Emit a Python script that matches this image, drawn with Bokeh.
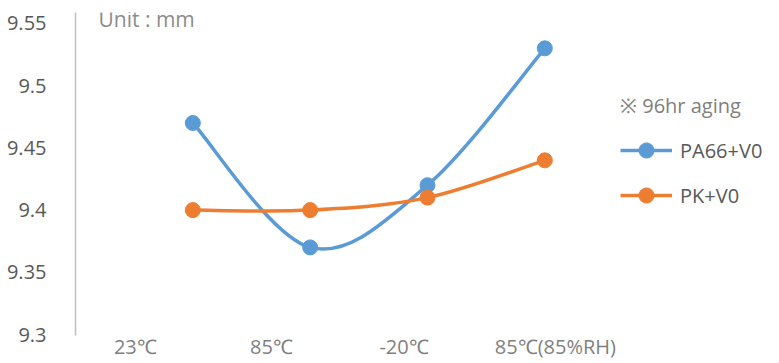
import numpy as np
from bokeh.plotting import figure
from bokeh.models import (Range1d, FixedTicker, Legend, LegendItem, Label,
                          ColumnDataSource)
from bokeh.embed import file_html
from bokeh.resources import INLINE

# Test conditions and measured dimension (mm) after 96 hr aging
conditions = ["23℃", "85℃", "-20℃", "85℃(85%RH)"]
sample_x = [1, 2, 3, 4]
pa66_v0 = [9.47, 9.37, 9.42, 9.53]
pk_v0 = [9.40, 9.40, 9.41, 9.44]
y_ticks = [9.3, 9.35, 9.4, 9.45, 9.5, 9.55]

# where the condition names sit along the x axis
condition_ticks = [0.51, 1.67, 2.80, 4.09]

BLUE = "#5b9bd5"
ORANGE = "#ed7d31"
FONT = "Open Sans"


def smooth_segments(xs, ys):
    """Cubic Bezier segments through the points (Catmull-Rom style smoothing)."""
    x = np.asarray(xs, float)
    y = np.asarray(ys, float)
    n = len(x)
    xp = np.concatenate([[x[0]], x, [x[-1]]])
    yp = np.concatenate([[y[0]], y, [y[-1]]])
    i = np.arange(n - 1)
    return dict(
        x0=x[i], y0=y[i], x1=x[i + 1], y1=y[i + 1],
        cx0=x[i] + (xp[i + 2] - xp[i]) / 6, cy0=y[i] + (yp[i + 2] - yp[i]) / 6,
        cx1=x[i + 1] - (xp[i + 3] - xp[i + 1]) / 6, cy1=y[i + 1] - (yp[i + 3] - yp[i + 1]) / 6,
    )


p = figure(width=779, height=363, output_backend="svg", toolbar_location=None,
           x_range=Range1d(0.0, 6.0), y_range=Range1d(9.2992, 9.5588),
           min_border_left=75, min_border_right=0, min_border_top=12,
           min_border_bottom=28)
p.outline_line_color = None
p.xgrid.visible = False
p.ygrid.visible = False
p.background_fill_color = "white"
p.border_fill_color = "white"

series = [("PA66+V0", pa66_v0, BLUE), ("PK+V0", pk_v0, ORANGE)]
items = []
for name, vals, color in series:
    seg = ColumnDataSource(smooth_segments(sample_x, vals))
    b = p.bezier(x0="x0", y0="y0", x1="x1", y1="y1", cx0="cx0", cy0="cy0",
                 cx1="cx1", cy1="cy1", source=seg, line_color=color,
                 line_width=3.5)
    pts = ColumnDataSource(dict(x=sample_x, y=vals))
    s = p.scatter("x", "y", source=pts, size=15, fill_color=color,
                  line_color=color)
    items.append(LegendItem(label=name, renderers=[b, s]))

# axes
yax = p.yaxis[0]
yax.ticker = FixedTicker(ticks=y_ticks)
yax.major_label_overrides = {v: f"{v:g}" for v in y_ticks}
yax.axis_line_color = "#bfbfbf"
yax.axis_line_width = 1.5
yax.major_tick_line_color = None
yax.minor_tick_line_color = None
yax.major_label_standoff = 23
yax.major_label_text_font = FONT
yax.major_label_text_font_size = "20px"
yax.major_label_text_color = "#595959"

xax = p.xaxis[0]
xax.ticker = FixedTicker(ticks=condition_ticks)
xax.major_label_overrides = dict(zip(condition_ticks, conditions))
xax.axis_line_color = None
xax.major_tick_line_color = None
xax.minor_tick_line_color = None
xax.major_tick_out = 0
xax.major_tick_in = 0
xax.minor_tick_out = 0
xax.major_label_standoff = -3
xax.major_label_text_font = FONT
xax.major_label_text_font_size = "20px"
xax.major_label_text_color = "#7f7f7f"

legend = Legend(items=items, title="※ 96hr aging", location=(545, 121),
                border_line_color=None, background_fill_alpha=0,
                padding=0, margin=0, glyph_width=52, glyph_height=38,
                label_height=38, spacing=7, label_standoff=8,
                title_standoff=12, label_text_font=FONT,
                label_text_font_size="20px", label_text_color="#595959",
                title_text_font=FONT, title_text_font_size="20px",
                title_text_font_style="normal", title_text_color="#7f7f7f")
p.add_layout(legend)

p.add_layout(Label(x=23, y=317, x_units="screen", y_units="screen",
                   text="Unit : mm", text_baseline="middle",
                   text_font=FONT, text_font_size="21px",
                   text_color="#8c8c8c"))

open("out.html", "w").write(file_html(p, INLINE))
